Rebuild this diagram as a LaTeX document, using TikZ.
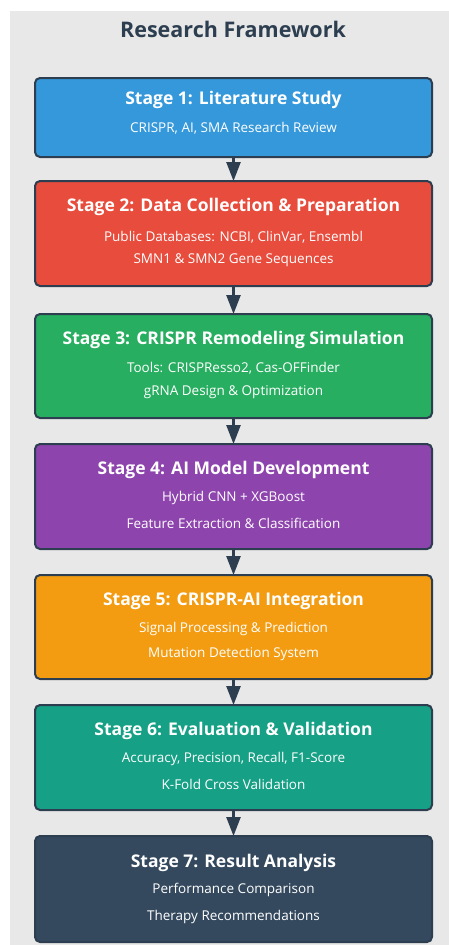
\documentclass[tikz,border=0pt]{standalone}
\usepackage{fontspec}
\setmainfont{Open Sans}
\usetikzlibrary{arrows.meta,calc}
\definecolor{bgpanel}{HTML}{E8E8E8}
\definecolor{edgec}{HTML}{2C3E50}
\definecolor{cA}{HTML}{3498DB}
\definecolor{cB}{HTML}{E74C3C}
\definecolor{cC}{HTML}{27AE60}
\definecolor{cD}{HTML}{8E44AD}
\definecolor{cE}{HTML}{F39C12}
\definecolor{cF}{HTML}{16A085}
\definecolor{cG}{HTML}{34495E}
\tikzset{
  stagebox/.style={draw=edgec, line width=2pt, rounded corners=5pt, minimum width=397pt, inner sep=0pt, anchor=north},
  headtxt/.style={text=white, font=\fontsize{17.5}{20}\selectfont\bfseries, anchor=center, inner sep=0pt},
  subtxt/.style={text=white, font=\fontsize{13.5}{15}\selectfont, anchor=center, inner sep=0pt},
  flowarrow/.style={draw=edgec, line width=2.5pt, -{Triangle[length=19pt,width=14pt]}, shorten >=-1pt}
}
\begin{document}
\begin{tikzpicture}[x=1pt,y=-1pt]
\useasboundingbox (0,0) rectangle (449,945);
\fill[white] (0,0) rectangle (449,945);
\fill[bgpanel] (10,11) rectangle (449,945);
\node[text=edgec, font=\fontsize{21.5}{25}\selectfont\bfseries] (title) at (233,29) {Research Framework};

\node[stagebox, fill=cA, minimum height=79pt] (s1) at (233.5,77) {};
\node[headtxt] (h1) at ($(s1.north)+(0,23)$) {Stage 1: Literature Study};
\node[subtxt] (a1) at ($(s1.north)+(0,51)$) {CRISPR, AI, SMA Research Review};

\node[stagebox, fill=cB, minimum height=105pt] (s2) at (233.5,180) {};
\node[headtxt] (h2) at ($(s2.north)+(0,27)$) {Stage 2: Data Collection \& Preparation};
\node[subtxt] (a2) at ($(s2.north)+(0,57)$) {Public Databases: NCBI, ClinVar, Ensembl};
\node[subtxt] (b2) at ($(s2.north)+(0,80)$) {SMN1 \& SMN2 Gene Sequences};

\node[stagebox, fill=cC, minimum height=104pt] (s3) at (233.5,313) {};
\node[headtxt] (h3) at ($(s3.north)+(0,27)$) {Stage 3: CRISPR Remodeling Simulation};
\node[subtxt] (a3) at ($(s3.north)+(0,55)$) {Tools: CRISPResso2, Cas-OFFinder};
\node[subtxt] (b3) at ($(s3.north)+(0,79)$) {gRNA Design \& Optimization};

\node[stagebox, fill=cD, minimum height=105pt] (s4) at (233.5,443) {};
\node[headtxt] (h4) at ($(s4.north)+(0,27)$) {Stage 4: AI Model Development};
\node[subtxt] (a4) at ($(s4.north)+(0,55)$) {Hybrid CNN + XGBoost};
\node[subtxt] (b4) at ($(s4.north)+(0,80)$) {Feature Extraction \& Classification};

\node[stagebox, fill=cE, minimum height=104pt] (s5) at (233.5,574) {};
\node[headtxt] (h5) at ($(s5.north)+(0,27)$) {Stage 5: CRISPR-AI Integration};
\node[subtxt] (a5) at ($(s5.north)+(0,55)$) {Signal Processing \& Prediction};
\node[subtxt] (b5) at ($(s5.north)+(0,80)$) {Mutation Detection System};

\node[stagebox, fill=cF, minimum height=105pt] (s6) at (233.5,704) {};
\node[headtxt] (h6) at ($(s6.north)+(0,27)$) {Stage 6: Evaluation \& Validation};
\node[subtxt] (a6) at ($(s6.north)+(0,55)$) {Accuracy, Precision, Recall, F1-Score};
\node[subtxt] (b6) at ($(s6.north)+(0,80)$) {K-Fold Cross Validation};

\node[stagebox, fill=cG, minimum height=106pt] (s7) at (233.5,835) {};
\node[headtxt] (h7) at ($(s7.north)+(0,28)$) {Stage 7: Result Analysis};
\node[subtxt] (a7) at ($(s7.north)+(0,55)$) {Performance Comparison};
\node[subtxt] (b7) at ($(s7.north)+(0,82)$) {Therapy Recommendations};

\foreach \u/\v in {s1/s2,s2/s3,s3/s4,s4/s5,s5/s6,s6/s7}
  \draw[flowarrow] (\u.south) -- (\v.north);
\end{tikzpicture}
\end{document}
